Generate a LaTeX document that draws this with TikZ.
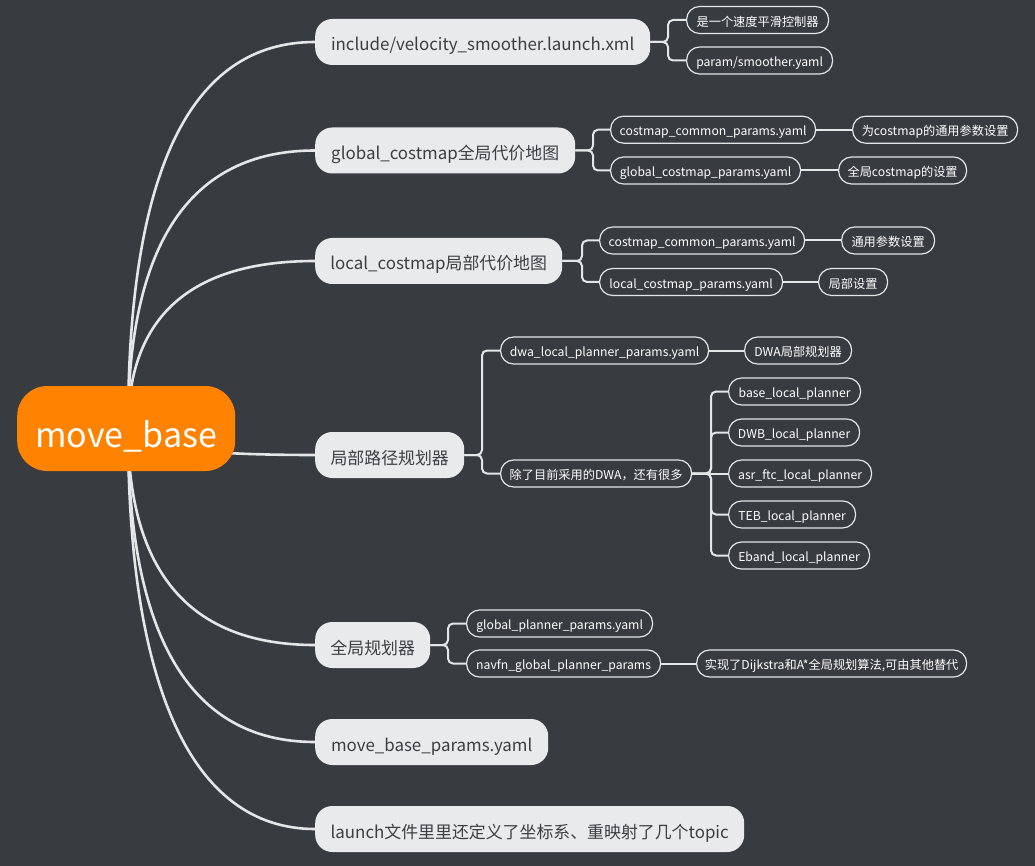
\documentclass[tikz,border=0pt]{standalone}
\usepackage{fontspec}
\setmainfont{Noto Sans CJK SC}
\usetikzlibrary{backgrounds}
\definecolor{bgc}{RGB}{56,59,64}
\definecolor{orangec}{RGB}{255,131,0}
\definecolor{lonefill}{RGB}{232,234,236}
\definecolor{lonetext}{RGB}{60,62,66}
\definecolor{linec}{RGB}{228,230,232}
\begin{document}
\begin{tikzpicture}[x=1pt,y=-1pt,
  rootnode/.style={fill=orangec, text=white, rounded corners=30pt, inner sep=0pt,
    minimum width=218pt, minimum height=85pt, anchor=west, text height=37pt, text depth=0pt,
    font=\fontsize{34}{38}\selectfont},
  lone/.style={fill=lonefill, text=lonetext, rounded corners=17pt, inner sep=0pt,
    minimum height=46pt, anchor=west, text height=18pt, text depth=0pt,
    font=\fontsize{16.9}{20}\selectfont},
  ltwo/.style={draw=linec, line width=1.2pt, text=white, rounded corners=13pt, inner sep=0pt,
    minimum height=27pt, anchor=west, text height=12.6pt, text depth=0pt,
    font=\fontsize{12.2}{15}\selectfont},
  mainconn/.style={draw=linec, line width=2.6pt},
  subconn/.style={draw=linec, line width=2pt, rounded corners=5pt},
]
\useasboundingbox (0,0) rectangle (1035,866);

% root
\node[rootnode] (root) at (17,428.5) {move\_base};
\coordinate (rc) at (128,428);

% level 1
\node[lone, minimum width=335pt] (n1) at (315,42) {include/velocity\_smoother.launch.xml};
\node[lone, minimum width=260pt] (n2) at (315,150.5) {global\_costmap全局代价地图};
\node[lone, minimum width=247pt] (n3) at (315,261) {local\_costmap局部代价地图};
\node[lone, minimum width=149pt] (n4) at (315,455) {局部路径规划器};
\node[lone, minimum width=115pt] (n5) at (315,645) {全局规划器};
\node[lone, minimum width=233pt] (n6) at (315,742) {move\_base\_params.yaml};
\node[lone, minimum width=429pt] (n7) at (315,829) {launch文件里里还定义了坐标系、重映射了几个topic};

% level 2
\node[ltwo, minimum width=142pt] (a1) at (686,20) {是一个速度平滑控制器};
\node[ltwo, minimum width=146pt] (a2) at (686,60.5) {param/smoother.yaml};

\node[ltwo, minimum width=205pt] (b1) at (610,129.7) {costmap\_common\_params.yaml};
\node[ltwo, minimum width=190pt] (b2) at (610,170.5) {global\_costmap\_params.yaml};
\node[ltwo, minimum width=165pt] (b1x) at (852,129.7) {为costmap的通用参数设置};
\node[ltwo, minimum width=128pt] (b2x) at (838,170.5) {全局costmap的设置};

\node[ltwo, minimum width=205pt] (c1) at (599,240.5) {costmap\_common\_params.yaml};
\node[ltwo, minimum width=183pt] (c2) at (599,282) {local\_costmap\_params.yaml};
\node[ltwo, minimum width=93pt] (c1x) at (841,240.5) {通用参数设置};
\node[ltwo, minimum width=69pt] (c2x) at (818,282) {局部设置};

\node[ltwo, minimum width=208pt] (d1) at (500,350.5) {dwa\_local\_planner\_params.yaml};
\node[ltwo, minimum width=107pt] (d1x) at (744,350.5) {DWA局部规划器};
\node[ltwo, minimum width=191pt] (d2) at (500,473.5) {除了目前采用的DWA，还有很多};

\node[ltwo, minimum width=132pt] (e1) at (728,391.5) {base\_local\_planner};
\node[ltwo, minimum width=131pt] (e2) at (728,432.5) {DWB\_local\_planner};
\node[ltwo, minimum width=143pt] (e3) at (728,473.5) {asr\_ftc\_local\_planner};
\node[ltwo, minimum width=127pt] (e4) at (728,514.5) {TEB\_local\_planner};
\node[ltwo, minimum width=141pt] (e5) at (728,555.5) {Eband\_local\_planner};

\node[ltwo, minimum width=186pt] (f1) at (466,623.5) {global\_planner\_params.yaml};
\node[ltwo, minimum width=194pt] (f2) at (466,663.5) {navfn\_global\_planner\_params};
\node[ltwo, minimum width=270pt] (f2x) at (696,663.5) {实现了Dijkstra和A*全局规划算法,可由其他替代};

% junctions
\coordinate (j1) at (668,42);
\coordinate (j2) at (593,150.5);
\coordinate (j3) at (582,261);
\coordinate (j4) at (482,455);
\coordinate (j5) at (711,473.5);
\coordinate (j6) at (448,645);

\begin{scope}[on background layer]
\fill[bgc] (0,0) rectangle (1035,866);
% main curves
\draw[mainconn] (rc) .. controls (128,170.7) and (190.3,42) .. (n1.west);
\draw[mainconn] (rc) .. controls (128,243) and (190.3,150.5) .. (n2.west);
\draw[mainconn] (rc) .. controls (128,316.7) and (190.3,261) .. (n3.west);
\draw[mainconn] (rc) .. controls (128,446) and (190.3,455) .. (n4.west);
\draw[mainconn] (rc) .. controls (128,572.7) and (190.3,645) .. (n5.west);
\draw[mainconn] (rc) .. controls (128,637.3) and (190.3,742) .. (n6.west);
\draw[mainconn] (rc) .. controls (128,683.3) and (190.3,829) .. (n7.west);
% sub connectors
\draw[subconn] (n1.east) -- (j1) |- (a1.west);
\draw[subconn] (n1.east) -- (j1) |- (a2.west);
\draw[subconn] (n2.east) -- (j2) |- (b1.west);
\draw[subconn] (n2.east) -- (j2) |- (b2.west);
\draw[subconn] (n3.east) -- (j3) |- (c1.west);
\draw[subconn] (n3.east) -- (j3) |- (c2.west);
\draw[subconn] (n4.east) -- (j4) |- (d1.west);
\draw[subconn] (n4.east) -- (j4) |- (d2.west);
\draw[subconn] (d2.east) -- (j5) |- (e1.west);
\draw[subconn] (d2.east) -- (j5) |- (e2.west);
\draw[subconn] (d2.east) -- (e3.west);
\draw[subconn] (d2.east) -- (j5) |- (e4.west);
\draw[subconn] (d2.east) -- (j5) |- (e5.west);
\draw[subconn] (n5.east) -- (j6) |- (f1.west);
\draw[subconn] (n5.east) -- (j6) |- (f2.west);
\draw[subconn] (b1.east) -- (b1x.west);
\draw[subconn] (b2.east) -- (b2x.west);
\draw[subconn] (c1.east) -- (c1x.west);
\draw[subconn] (c2.east) -- (c2x.west);
\draw[subconn] (d1.east) -- (d1x.west);
\draw[subconn] (f2.east) -- (f2x.west);
\end{scope}
\end{tikzpicture}
\end{document}
